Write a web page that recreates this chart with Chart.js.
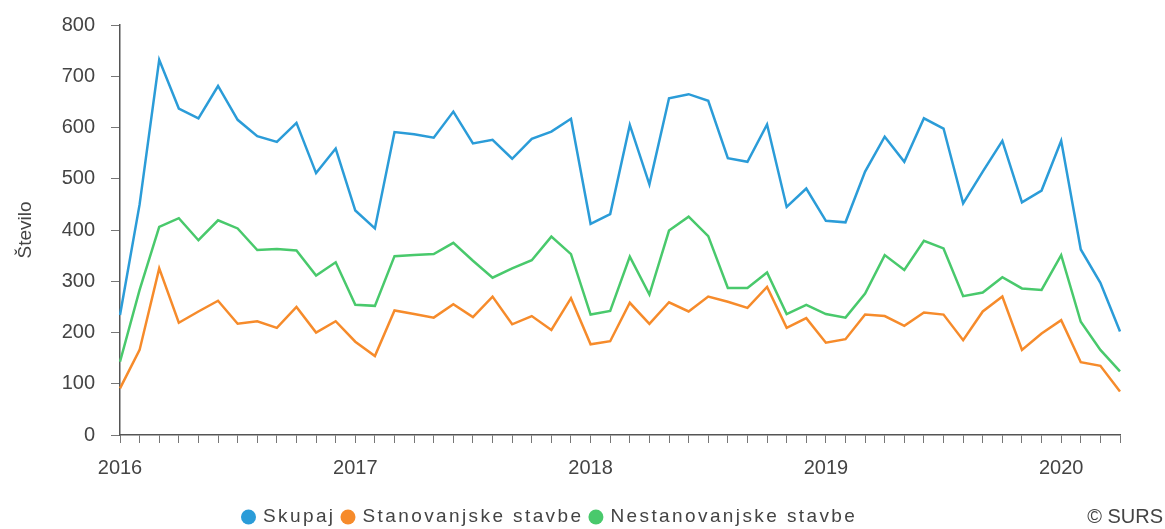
<!DOCTYPE html>
<html>
<head>
<meta charset="utf-8">
<script src="https://cdn.jsdelivr.net/npm/chart.js@4"></script>
<style>
  html, body { margin: 0; padding: 0; background: #fff; }
  #wrap { width: 1165px; height: 529px; }
</style>
</head>
<body>
<div id="wrap"><canvas id="chart" width="1165" height="529"></canvas></div>
<script>
// months Jan 2016 .. Apr 2020
const years = [2016, 2017, 2018, 2019, 2020];
const lastYearMonths = 4;

const skupaj = [
  234, 450, 732, 637, 618, 681, 615, 583, 572, 609, 511, 559,
  438, 403, 591, 587, 580, 631, 569, 576, 539, 578, 592, 617,
  412, 431, 605, 489, 657, 665, 652, 540, 533, 606, 445, 481,
  418, 415, 514, 582, 533, 618, 598, 452, 514, 574, 454, 477,
  574, 362, 297, 202
];
const stanovanjske = [
  91, 166, 325, 219, 241, 262, 217, 222, 209, 250, 200, 222,
  182, 154, 243, 236, 229, 255, 230, 270, 216, 232, 205, 267,
  177, 183, 258, 217, 259, 241, 270, 260, 248, 289, 209, 228,
  180, 187, 235, 232, 213, 239, 235, 185, 241, 270, 166, 198,
  224, 142, 135, 85
];
const nestanovanjske = [
  143, 283, 406, 423, 380, 419, 403, 361, 363, 360, 311, 337,
  254, 252, 349, 351, 353, 375, 340, 307, 325, 341, 387, 353,
  235, 242, 348, 274, 399, 426, 388, 287, 287, 317, 236, 254,
  236, 229, 276, 351, 322, 379, 364, 271, 278, 308, 286, 283,
  351, 221, 166, 124
];
const yTicks = [0, 100, 200, 300, 400, 500, 600, 700, 800];

const labels = [];
years.forEach((y, yi) => {
  const n = yi === years.length - 1 ? lastYearMonths : 12;
  for (let m = 1; m <= n; m++) labels.push(y + '-' + m);
});

const textColor = '#444';
const axisColor = '#555';
const fontFamily = '"Liberation Sans", Arial, sans-serif';

// legend + source drawn at the bottom
const bottomLegend = {
  id: 'bottomLegend',
  afterDraw(chart) {
    const ctx = chart.ctx;
    ctx.save();
    ctx.font = '19px ' + fontFamily;
    if ('letterSpacing' in ctx) ctx.letterSpacing = '2.4px';
    ctx.textBaseline = 'middle';
    let x = 241;
    const y = 517;
    chart.data.datasets.forEach(ds => {
      ctx.beginPath();
      ctx.fillStyle = ds.borderColor;
      ctx.arc(x + 7.5, y, 7.5, 0, Math.PI * 2);
      ctx.fill();
      ctx.fillStyle = textColor;
      ctx.fillText(ds.label, x + 22, y);
      x += 22 + ctx.measureText(ds.label).width + 5;
    });
    ctx.textAlign = 'right';
    ctx.letterSpacing = '0px';
    ctx.font = '20px ' + fontFamily;
    ctx.fillText('\u00A9 SURS', 1163, 517);
    ctx.restore();
  }
};

new Chart(document.getElementById('chart'), {
  type: 'line',
  data: {
    labels: labels,
    datasets: [
      { label: 'Skupaj', data: skupaj, borderColor: '#2b9cd8', backgroundColor: '#2b9cd8' },
      { label: 'Stanovanjske stavbe', data: stanovanjske, borderColor: '#f68b2b', backgroundColor: '#f68b2b' },
      { label: 'Nestanovanjske stavbe', data: nestanovanjske, borderColor: '#49c96c', backgroundColor: '#49c96c' }
    ]
  },
  options: {
    responsive: false,
    animation: false,
    elements: {
      line: { borderWidth: 2.5, tension: 0 },
      point: { radius: 0 }
    },
    layout: { padding: { left: 0, right: 45, top: 20, bottom: 36 } },
    plugins: {
      legend: { display: false },
      tooltip: { enabled: false }
    },
    scales: {
      x: {
        type: 'category',
        offset: false,
        border: { color: axisColor, width: 1.5 },
        grid: { drawOnChartArea: false, drawTicks: true, tickLength: 8, color: '#777' },
        ticks: {
          autoSkip: false,
          maxRotation: 0,
          padding: 13,
          color: textColor,
          font: { family: fontFamily, size: 20 },
          callback: (v, i) => (i % 12 === 0 ? labels[i].split('-')[0] : '')
        }
      },
      y: {
        min: 0,
        max: 800,
        afterBuildTicks: s => { s.ticks = yTicks.map(v => ({ value: v })); },
        afterFit: s => { s.width = 120; },
        border: { color: axisColor, width: 1.5 },
        grid: { drawOnChartArea: false, drawTicks: true, tickLength: 9, color: '#777' },
        ticks: {
          padding: 16,
          color: textColor,
          font: { family: fontFamily, size: 20, lineHeight: 0.9 }
        },
        title: {
          display: true,
          text: 'Število',
          color: textColor,
          padding: { top: 14, bottom: 0 },
          font: { family: fontFamily, size: 19 }
        }
      }
    }
  },
  plugins: [bottomLegend]
});
</script>
</body>
</html>
